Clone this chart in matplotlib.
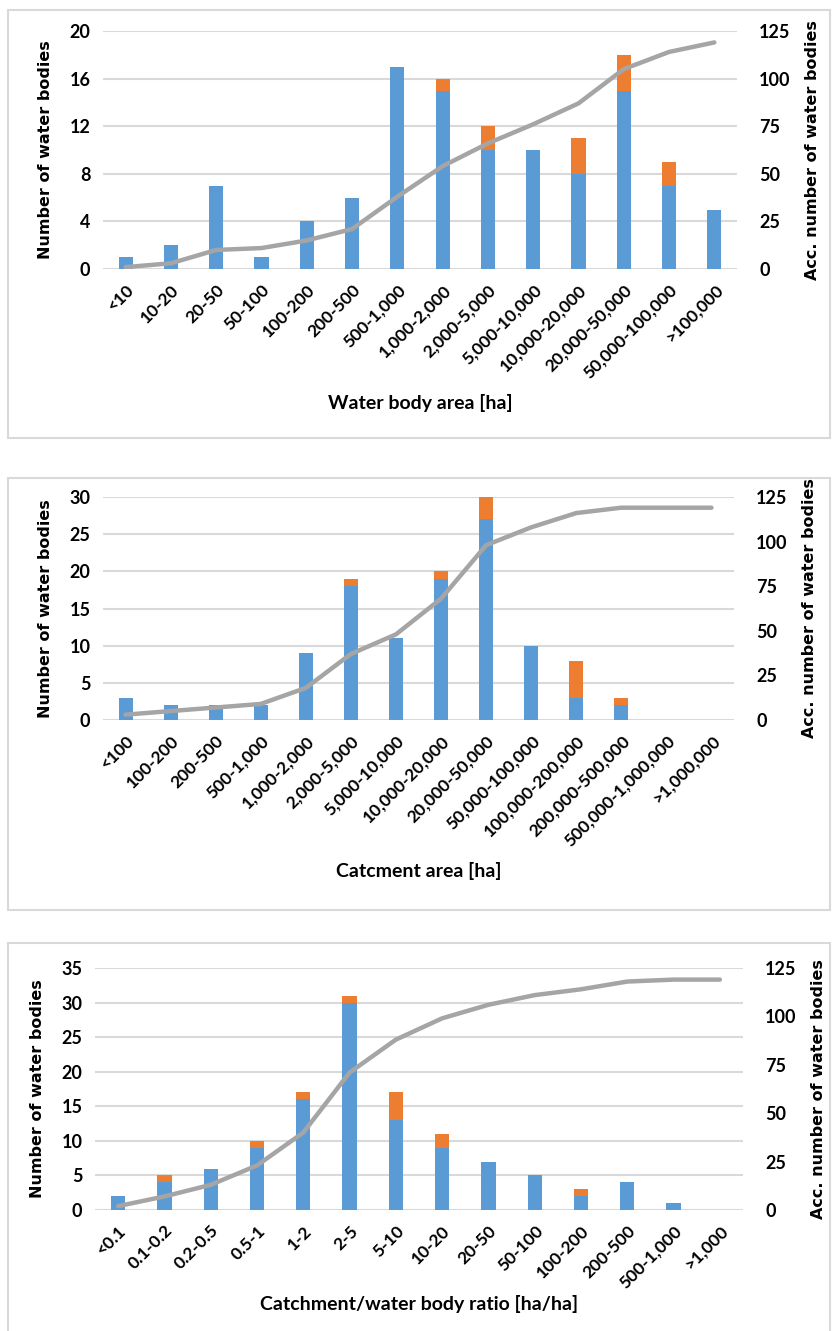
import matplotlib
matplotlib.use("Agg")
import matplotlib.pyplot as plt
from matplotlib.patches import Rectangle

plt.rcParams["font.family"] = ["Lato", "Liberation Sans", "DejaVu Sans"]

BLUE = "#5B9BD5"
ORANGE = "#ED7D31"
GRAY = "#A5A5A5"
GRID = "#D9D9D9"

# panel 1: water body area
area_cats = ["<10", "10-20", "20-50", "50-100", "100-200", "200-500", "500-1,000",
             "1,000-2,000", "2,000-5,000", "5,000-10,000", "10,000-20,000",
             "20,000-50,000", "50,000-100,000", ">100,000"]
area_blue = [1, 2, 7, 1, 4, 6, 17, 15, 10, 10, 8, 15, 7, 5]
area_orange = [0, 0, 0, 0, 0, 0, 0, 1, 2, 0, 3, 3, 2, 0]
area_acc = [1, 3, 10, 11, 15, 21, 38, 54, 66, 76, 87, 105, 114, 119]

# panel 2: catchment area
catch_cats = ["<100", "100-200", "200-500", "500-1,000", "1,000-2,000", "2,000-5,000",
              "5,000-10,000", "10,000-20,000", "20,000-50,000", "50,000-100,000",
              "100,000-200,000", "200,000-500,000", "500,000-1,000,000", ">1,000,000"]
catch_blue = [3, 2, 2, 2, 9, 18, 11, 19, 27, 10, 3, 2, 0, 0]
catch_orange = [0, 0, 0, 0, 0, 1, 0, 1, 3, 0, 5, 1, 0, 0]
catch_acc = [3, 5, 7, 9, 18, 37, 48, 68, 98, 108, 116, 119, 119, 119]

# panel 3: catchment / water body ratio
ratio_cats = ["<0.1", "0.1-0.2", "0.2-0.5", "0.5-1", "1-2", "2-5", "5-10", "10-20",
              "20-50", "50-100", "100-200", "200-500", "500-1,000", ">1,000"]
ratio_blue = [2, 4, 6, 9, 16, 30, 13, 9, 7, 5, 2, 4, 1, 0]
ratio_orange = [0, 1, 0, 1, 1, 1, 4, 2, 0, 0, 1, 0, 0, 0]
ratio_acc = [2, 7, 13, 23, 40, 71, 88, 99, 106, 111, 114, 118, 119, 119]

W, H = 832, 1331
fig = plt.figure(figsize=(W / 100, H / 100), dpi=100)


def px_axes(left, top, right, bottom):
    return fig.add_axes([left / W, 1 - bottom / H, (right - left) / W, (bottom - top) / H])


def border(left, top, right, bottom):
    fig.patches.append(Rectangle((left / W, 1 - bottom / H), (right - left) / W,
                                 (bottom - top) / H, transform=fig.transFigure,
                                 fill=False, edgecolor=GRID, linewidth=1.5))


def panel(box, cats, blue, orange, acc, ymax, ystep, xlabel, xlabel_y):
    ax = px_axes(*box)
    x = list(range(len(cats)))
    ax.bar(x, blue, width=0.31, color=BLUE, zorder=2)
    ax.bar(x, orange, width=0.31, bottom=blue, color=ORANGE, zorder=2)
    ax.set_xlim(-0.5, len(cats) - 0.5)
    ax.set_ylim(0, ymax)
    ax.set_yticks(range(0, ymax + 1, ystep))
    ax.yaxis.grid(True, color=GRID, linewidth=1.5, zorder=0)
    ax.set_axisbelow(True)
    for s in ax.spines.values():
        s.set_visible(False)
    ax.tick_params(length=0, labelsize=13, pad=9)
    ax.set_xticks(x)
    ax.set_xticklabels(cats, rotation=45, ha="right", rotation_mode="anchor",
                       fontsize=12.5, fontweight="bold")
    for lab in ax.get_yticklabels():
        lab.set_fontweight("bold")
    ax.set_ylabel("Number of water bodies", fontsize=11.5, fontweight="bold",
                  family="DejaVu Sans", labelpad=12)

    ax2 = ax.twinx()
    ax2.plot(x, acc, color=GRAY, linewidth=3.2, solid_capstyle="round",
             solid_joinstyle="round", zorder=3)
    ax2.set_ylim(0, 125)
    ax2.set_yticks(range(0, 126, 25))
    for s in ax2.spines.values():
        s.set_visible(False)
    ax2.tick_params(length=0, labelsize=13, pad=16)
    for lab in ax2.get_yticklabels():
        lab.set_fontweight("bold")
    ax2.set_ylabel("Acc. number of water bodies", fontsize=11.5, fontweight="bold",
                   family="DejaVu Sans", labelpad=10)

    fig.text((box[0] + box[2]) / 2 / W, 1 - xlabel_y / H, xlabel, ha="center",
             va="center", fontsize=14, fontweight="bold")


border(8, 10, 830, 438)
border(8, 478, 830, 910)
border(8, 943, 830, 1340)

panel((103, 31, 737, 269), area_cats, area_blue, area_orange, area_acc, 20, 4,
      "Water body area [ha]", 403)
panel((103, 497, 734, 720), catch_cats, catch_blue, catch_orange, catch_acc, 30, 5,
      "Catcment area [ha]", 871)
panel((95, 968, 743, 1210), ratio_cats, ratio_blue, ratio_orange, ratio_acc, 35, 5,
      "Catchment/water body ratio [ha/ha]", 1304)

fig.savefig("out.png", dpi=100)
